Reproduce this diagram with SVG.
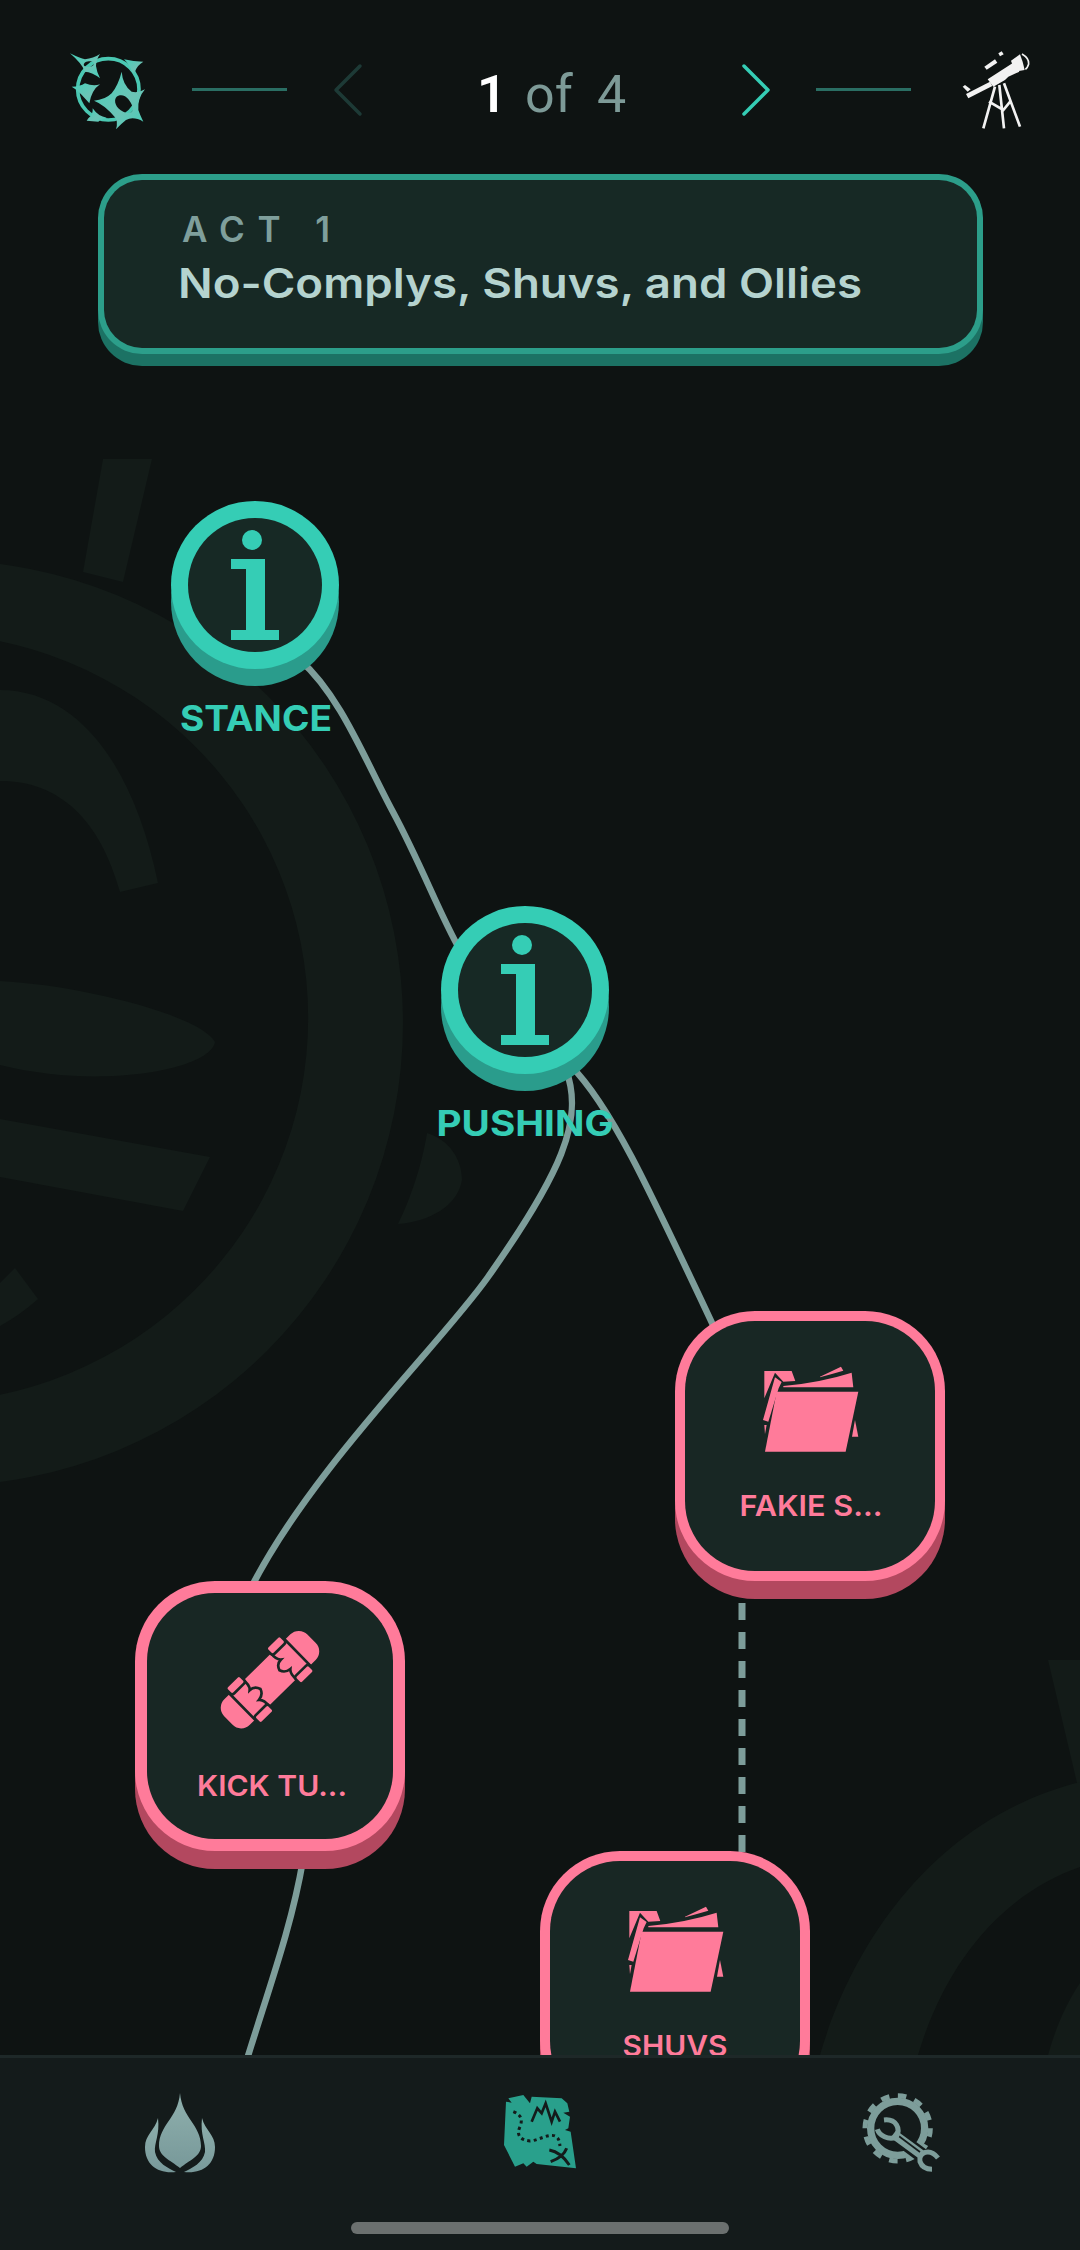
<svg xmlns="http://www.w3.org/2000/svg" width="1080" height="2250" viewBox="0 0 1080 2250">
<style>
text{font-family:"Inter","Noto Sans",sans-serif}
.wm{fill:#131b18}
.conn{fill:none;stroke:#7d9d9a;stroke-width:6.500}
.dash{stroke-width:7;stroke-dasharray:17 12}
.tl{fill:#35cdb5;font-size:35px;font-weight:700}
.pl{fill:#ff7b9a;font-size:29px;font-weight:600}
.p{fill:#ff7b9a}.ps{fill:#b3485f}.in{fill:#182724}
.t{fill:#35cdb5}.ts{fill:#2a9c8c}.ti{fill:#172925}
.hl{stroke:#2a6e63;stroke-width:3;fill:none}
.dk{fill:none;stroke:#182724;stroke-width:8}
.num{font-size:52px}
</style>
<defs>
<linearGradient id="lg" x1="0" y1="0" x2="1" y2="1"><stop offset="0" stop-color="#45d0b9"/><stop offset=".6" stop-color="#6cc4b6"/><stop offset="1" stop-color="#45d0b9"/></linearGradient>
<linearGradient id="fg" x1="0" y1="0" x2="0" y2="1"><stop offset="0" stop-color="#8fb0ad"/><stop offset="1" stop-color="#78999a"/></linearGradient>
<g id="info">
<ellipse cx="-3" cy="-45" rx="10" ry="10"/>
<path d="M-24 -26H10V45H24V55H-24V45H-9V-16H-24Z"/>
</g>
<g id="folder">
<path d="M410 335H655L617 515H375Z"/>
<path d="M373 273H455L466 303L430 305L405 278L373 355Z"/>
<path d="M405 292L425 306L416 325L385 425L369 420Z"/>
<path d="M430 318Q540 308 635 278L640 322H430Z"/>
<path d="M540 290L603 260L610 272Q575 282 540 292Z"/>
<path d="M645 420L655 470H636Z"/>
<path d="M373 435H380L375 462Z"/>
</g>
</defs>
<rect width="1080" height="2250" fill="#0e1312"/>
<g id="watermark" class="wm">
<path fill-rule="evenodd" d="M-60 560A463 463 0 1 1 -60 1486A463 463 0 1 1 -60 560ZM-80 633A388 385 0 1 0 -80 1403A388 385 0 1 0 -80 633Z"/>
<path d="M103 459H152L123 582L83 572Z"/>
<path d="M0 690C80 690 135 770 158 883L120 892C100 820 60 781 0 781Z"/>
<path d="M0 981C80 985 200 1015 215 1042C210 1070 100 1090 0 1065Z"/>
<path d="M0 1119L210 1157L183 1211L0 1177Z"/>
<path d="M0 1283L15 1268L38 1299Q20 1315 0 1326Z"/>
<path d="M427 1133C450 1140 462 1160 462 1180C458 1205 430 1222 398 1224C410 1200 422 1165 427 1133Z"/>
<path d="M1048 1660H1080V1783H1077Z"/>
<path d="M820 2055C850 1950 930 1820 1080 1782V1867C1000 1895 945 1965 918 2055Z"/>
<path d="M1048 2055C1055 2030 1065 2005 1080 1983V2055Z"/>
</g>
<g id="connectors">
<path class="conn" d="M300 660C340 695 365 760 393 812S440 915 460 950"/>
<path class="conn" d="M570 1065C610 1105 645 1180 720 1340"/>
<path class="conn" d="M566 1070C585 1120 560 1175 488 1277C440 1345 310 1470 250 1590"/>
<path class="conn" d="M303 1860C292 1925 270 1985 248 2056"/>
<path class="conn dash" d="M742 1603V1860"/>
</g>
<g id="node-stance">
<circle class="ts" cx="255" cy="602" r="84"/><circle class="t" cx="255" cy="585" r="84"/><circle class="ti" cx="255" cy="585" r="67"/>
<use href="#info" class="t" x="255" y="585"/>
<text class="tl" x="256" y="731" text-anchor="middle" textLength="152" lengthAdjust="spacingAndGlyphs">STANCE</text>
</g>
<g id="node-pushing">
<circle class="ts" cx="525" cy="1007" r="84"/><circle class="t" cx="525" cy="990" r="84"/><circle class="ti" cx="525" cy="990" r="67"/>
<use href="#info" class="t" x="525" y="990"/>
<text class="tl" x="525" y="1136" text-anchor="middle" textLength="177" lengthAdjust="spacingAndGlyphs">PUSHING</text>
</g>
<g id="node-fakie">
<rect class="ps" x="675" y="1329" width="270" height="270" rx="80"/><rect class="p" x="675" y="1311" width="270" height="270" rx="80"/><rect class="in" x="685" y="1321" width="250" height="250" rx="70"/>
<use href="#folder" class="p" transform="translate(640 1280) scale(.3333)"/>
<text class="pl" x="811" y="1516" text-anchor="middle" textLength="143" lengthAdjust="spacingAndGlyphs">FAKIE S...</text>
</g>
<g id="node-kick">
<rect class="ps" x="135" y="1599" width="270" height="270" rx="80"/><rect class="p" x="135" y="1581" width="270" height="270" rx="80"/><rect class="in" x="147" y="1593" width="246" height="246" rx="68"/>
<g transform="translate(120 1560) scale(.3333) translate(450 359) rotate(-44.500)">
<rect class="p" x="-175" y="-54" width="350" height="108" rx="36"/>
<path class="dk" d="M-116 -60V60M116 -60V60"/>
<path class="dk" d="M-58 -56Q-54 -30 -66 -20Q-46 -20 -40 0Q-46 18 -66 20Q-54 30 -58 56M58 -56Q54 -30 66 -20Q46 -20 40 0Q46 18 66 20Q54 30 58 56"/>
<g class="p" stroke="#182724" stroke-width="8">
<rect x="-114" y="-76" width="58" height="30" rx="8"/><rect x="-114" y="46" width="58" height="30" rx="8"/>
<rect x="56" y="-76" width="58" height="30" rx="8"/><rect x="56" y="46" width="58" height="30" rx="8"/>
</g>
</g>
<text class="pl" x="272" y="1796" text-anchor="middle" textLength="150" lengthAdjust="spacingAndGlyphs">KICK TU...</text>
</g>
<g id="node-shuvs">
<rect class="ps" x="540" y="1869" width="270" height="270" rx="80"/><rect class="p" x="540" y="1851" width="270" height="270" rx="80"/><rect class="in" x="550" y="1861" width="250" height="250" rx="70"/>
<use href="#folder" class="p" transform="translate(505 1820) scale(.3333)"/>
<text class="pl" x="675" y="2056" text-anchor="middle" textLength="105" lengthAdjust="spacingAndGlyphs">SHUVS</text>
</g>
<g id="bottom-bar">
<rect y="2055" width="1080" height="195" fill="#141b1b"/>
<rect y="2055" width="1080" height="3" fill="#1e2828"/>
<g id="nav-flame" fill="url(#fg)">
<path d="M180 2093C182 2118 201 2125 201 2146C201 2156 190 2160 180 2168C170 2160 159 2156 159 2146C159 2125 178 2118 180 2093Z"/>
<path d="M158 2118C160 2135 154 2143 155 2152C157 2163 168 2168 176 2172C158 2174 145 2165 145 2147C145 2135 155 2130 158 2118Z"/>
<path d="M202 2118C200 2135 206 2143 205 2152C203 2163 192 2168 184 2172C202 2174 215 2165 215 2147C215 2135 205 2130 202 2118Z"/>
</g>
<g id="nav-map" transform="translate(480 2070) scale(.3333)">
<path fill="#29a08c" d="M78 95L95 98L85 85L130 75L150 100L155 80L245 85L262 100L268 125L250 128L270 140L265 175L255 180L272 185L288 295L170 282L160 275L140 290L130 280L105 290L72 225Z"/>
<path fill="none" stroke="#141b1b" stroke-width="8" d="M155 155L172 115L185 130L197 100L215 155L225 125L240 155"/>
<path fill="none" stroke="#141b1b" stroke-width="9" stroke-dasharray="9 10" d="M100 125C125 135 128 150 120 170C108 195 120 210 150 213C180 210 205 190 225 198C238 205 238 215 240 228"/>
<path fill="none" stroke="#141b1b" stroke-width="9" d="M208 240C235 245 255 265 268 285M260 235Q250 262 212 275"/>
</g>
<g id="nav-gear" transform="translate(840 2070) scale(.3333)">
<circle cx="173" cy="175" r="81" fill="none" stroke="#7d9d9a" stroke-width="22"/>
<circle cx="173" cy="175" r="98" fill="none" stroke="#7d9d9a" stroke-width="15" stroke-dasharray="25.650 25.650"/>
<path fill="none" stroke="#141b1b" stroke-width="44" d="M150 185L262 268"/>
<path fill="none" stroke="#7d9d9a" stroke-width="28" d="M160 192L250 258"/>
<path fill="none" stroke="#141b1b" stroke-width="5" d="M168 192L240 246"/>
<path fill="none" stroke="#7d9d9a" stroke-width="15" d="M132 150C168 146 184 175 168 202C145 210 118 198 112 178"/>
<path fill="none" stroke="#7d9d9a" stroke-width="15" d="M294 264C268 232 235 248 240 275C246 292 258 298 276 298"/>
</g>
<rect id="home-indicator" x="351" y="2222" width="378" height="12" rx="6" fill="#6b706f"/>
</g>
<g id="header">
<g id="logo" transform="translate(50 30) scale(.3333)" fill="url(#lg)">
<circle cx="175" cy="178" r="92" fill="none" stroke="#4ac8b2" stroke-width="11"/>
<path fill-rule="evenodd" d="M60 70Q90 85 105 88Q130 85 150 72Q138 90 138 108Q140 125 150 145Q125 125 105 125Q95 100 60 70ZM117 94C105 94 98 104 103 108C112 114 130 110 132 102C133 96 125 94 117 94Z"/>
<path d="M222 88Q250 95 280 95Q262 105 255 125L248 130Q240 105 222 88Z"/>
<path d="M65 170Q90 170 105 160Q130 170 150 163Q125 180 118 220Q100 200 90 190Q80 178 65 170Z"/>
<path fill-rule="evenodd" d="M215 125Q218 165 245 185Q265 190 285 178Q262 205 265 240Q270 255 280 275Q250 258 228 270Q215 280 198 298Q205 275 195 262Q165 225 132 212Q165 210 185 190Q205 165 215 125ZM205 197C192 202 192 220 205 235C220 250 241 254 247 243C252 230 238 207 225 199C218 195 212 195 205 197Z"/>
<path d="M115 265Q130 255 128 235Q145 260 170 263Q150 270 145 275L110 272Z"/>
</g>
<path class="hl" d="M192 89.500H287"/>
<path d="M360 66L336 90L360 114" fill="none" stroke="#1d3a36" stroke-width="3.500" stroke-linecap="round" stroke-linejoin="round"/>
<text class="num" x="477" y="112" font-weight="600" fill="#ffffff" style="font-family:Roboto,sans-serif">1</text>
<text class="num" x="525" y="112" font-weight="400" fill="#7d9a97" style="font-family:Roboto,sans-serif">of</text>
<text class="num" x="597" y="112" font-weight="400" fill="#7d9a97" style="font-family:Roboto,sans-serif">4</text>
<path d="M744 66L768 90L744 114" fill="none" stroke="#35cdb5" stroke-width="3.500" stroke-linecap="round" stroke-linejoin="round"/>
<path class="hl" d="M816 89.500H911"/>
<g id="telescope" transform="translate(940 30) scale(.3333)" fill="#f2f2f2">
<path d="M143 148L222 97L238 125L205 140L195 150L160 170Z"/>
<path d="M213 92L240 73Q250 98 254 120L225 125Z"/>
<path d="M78 192L150 155L157 168L85 205Z"/>
<path d="M133 110L165 88L172 98L140 119Z"/>
<path d="M175 70L185 64L191 73L180 79Z"/>
<path d="M68 170L75 165L92 178L83 185Z"/>
<path d="M246 72Q268 85 266 102Q262 115 256 118" fill="none" stroke="#f2f2f2" stroke-width="5"/>
<path d="M165 170L130 295M178 165L192 295M192 160L240 290M147 215L190 240L213 212" fill="none" stroke="#f2f2f2" stroke-width="8"/>
</g>
</g>
<g id="act-banner">
<rect x="98" y="192" width="885" height="174" rx="44" fill="#1c7264"/>
<rect x="98" y="174" width="885" height="180" rx="44" fill="#2c9e8a"/>
<rect x="104" y="180" width="873" height="168" rx="38" fill="#172925"/>
<text x="182" y="242" font-size="35" font-weight="600" fill="#7f9f9c" textLength="148" lengthAdjust="spacing">ACT 1</text>
<text x="178" y="298" font-size="41" font-weight="600" fill="#b5d3cf" textLength="684" lengthAdjust="spacingAndGlyphs">No-Complys, Shuvs, and Ollies</text>
</g>
</svg>
